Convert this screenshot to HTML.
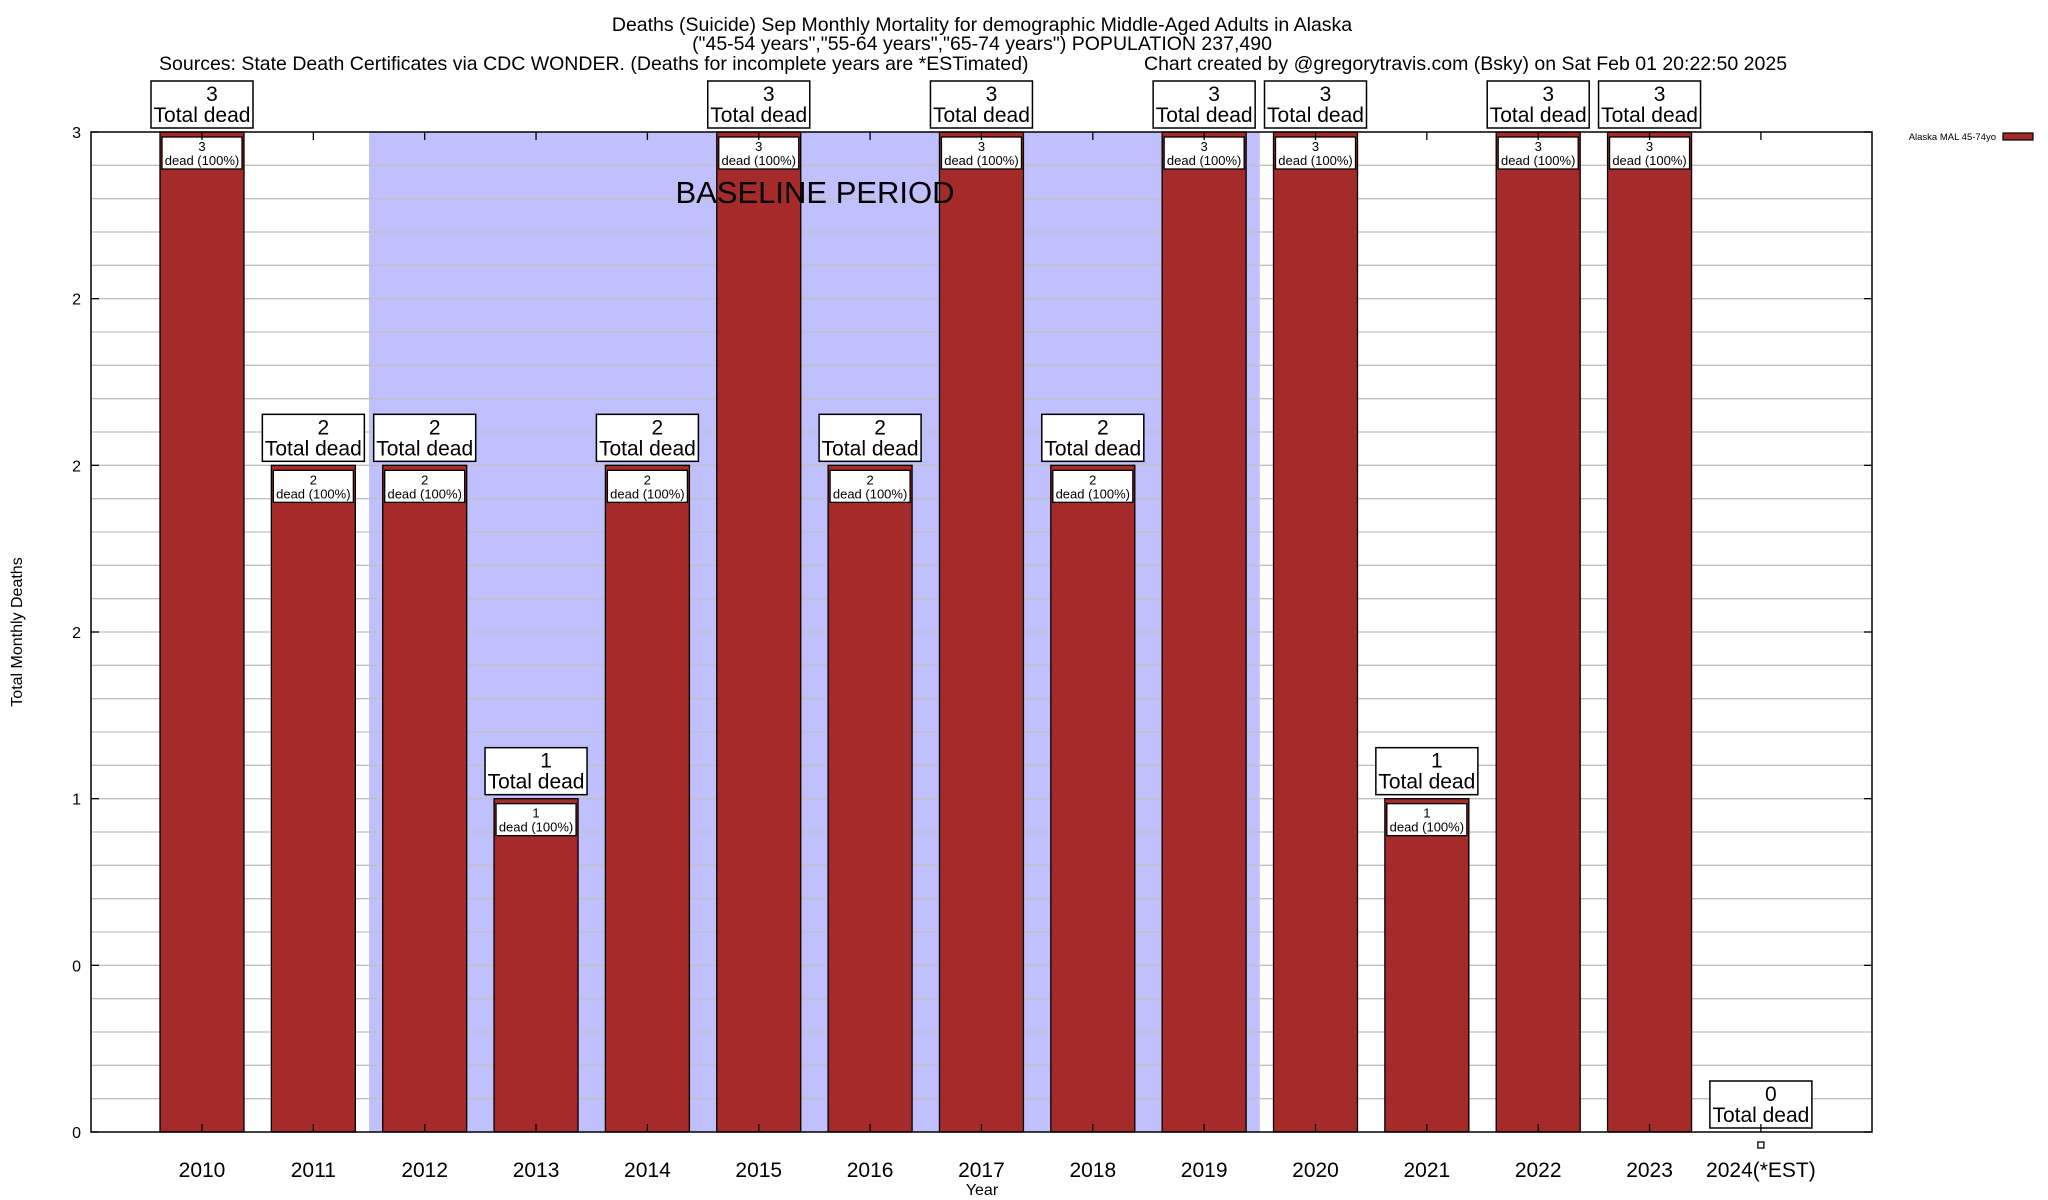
<!DOCTYPE html>
<html><head><meta charset="utf-8"><style>
html,body{margin:0;padding:0;background:#fff;}
svg{display:block;font-family:"Liberation Sans",Arial,sans-serif;}
</style></head><body>
<svg id="chart" width="2048" height="1200" viewBox="0 0 2048 1200">
<text x="982" y="31" font-size="19.5" text-anchor="middle">Deaths (Suicide) Sep Monthly Mortality for demographic Middle-Aged Adults in Alaska</text>
<text x="982" y="50" font-size="19.5" text-anchor="middle">("45-54 years","55-64 years","65-74 years") POPULATION 237,490</text>
<text x="159" y="70" font-size="19.5">Sources: State Death Certificates via CDC WONDER. (Deaths for incomplete years are *ESTimated)</text>
<text x="1144" y="70" font-size="19.5">Chart created by @gregorytravis.com (Bsky) on Sat Feb 01 20:22:50 2025</text>
<g id="plot"></g>
</svg>
<script>
const categories = ["2010","2011","2012","2013","2014","2015","2016","2017","2018","2019","2020","2021","2022","2023","2024(*EST)"];
const deaths = [3,2,2,1,2,3,2,3,2,3,3,1,3,3,0];
const yTicks = [0,0.5,1,1.5,2,2.5,3];
const yTickLabels = ["0","0","1","2","2","2","3"];
const baselineStart = "2012";
const baselineEnd = "2019";

const NS="http://www.w3.org/2000/svg";
const L=91,R=1872,T=132,B=1132;
const xC=i=>202+i*111.35;
const y=v=>B-(v/3)*(B-T);
const g=document.getElementById('plot');
function mk(tag,attrs,parent){const e=document.createElementNS(NS,tag);for(const k in attrs)e.setAttribute(k,attrs[k]);(parent||g).appendChild(e);return e;}

const bi0=categories.indexOf(baselineStart),bi1=categories.indexOf(baselineEnd);
const base=mk('rect',{x:xC(bi0)-55.7,y:T,width:xC(bi1)-xC(bi0)+111.4,height:B-T,fill:'#c0c0ff'});


for(let k=1;k<30;k++){const v=k/10;const l=mk('line',{x1:L,x2:R,y1:y(v),y2:y(v),stroke:'#c0c0c0','stroke-width':1.3});

}

deaths.forEach((d,i)=>{
  const cx=xC(i),w=84;
  if(d>0){
    const r=mk('rect',{x:cx-w/2,y:y(d),width:w,height:B-y(d),fill:'#a52a2a',stroke:'#000','stroke-width':1.3});
    
    
    const ib=mk('rect',{x:cx-40,y:y(d)+5,width:80,height:32,fill:'#fff',stroke:'#000','stroke-width':1.3});
    
    
    const t1=mk('text',{x:cx,y:y(d)+19,'font-size':13,'text-anchor':'middle'});t1.textContent=d;
    
    
    const t2=mk('text',{x:cx,y:y(d)+33,'font-size':13,'text-anchor':'middle'});t2.textContent='dead (100%)';
    
    
  } else {
    const m=mk('rect',{x:cx-3,y:1142,width:6,height:6,fill:'#fff',stroke:'#000','stroke-width':1.3});
    
    
  }
  const top=y(d);
  const ob=mk('rect',{x:cx-51,y:top-51,width:102,height:47,fill:'#fff',stroke:'#000','stroke-width':1.5});
  
  
  const a=mk('text',{x:cx+10,y:top-31,'font-size':21,'text-anchor':'middle'});a.textContent=d;
  
  
  const b=mk('text',{x:cx,y:top-10,'font-size':21,'text-anchor':'middle'});b.textContent='Total dead';
  
  
  const xl=mk('text',{x:cx,y:1177,'font-size':21,'text-anchor':'middle'});xl.textContent=categories[i];
  
  
  mk('line',{x1:cx,x2:cx,y1:B,y2:B-8,stroke:'#000','stroke-width':1.3});
  mk('line',{x1:cx,x2:cx,y1:T,y2:T+8,stroke:'#000','stroke-width':1.3});
});

const bt=mk('text',{x:815,y:203,'font-size':31,'text-anchor':'middle'});bt.textContent='BASELINE PERIOD';



yTicks.forEach((v,k)=>{
  const t=mk('text',{x:81,y:y(v)+6,'font-size':16,'text-anchor':'end'});t.textContent=yTickLabels[k];
  
  
  mk('line',{x1:L,x2:L+8,y1:y(v),y2:y(v),stroke:'#000','stroke-width':1.3});
  mk('line',{x1:R,x2:R-8,y1:y(v),y2:y(v),stroke:'#000','stroke-width':1.3});
});
const fr=mk('rect',{x:L,y:T,width:R-L,height:B-T,fill:'none',stroke:'#000','stroke-width':1.5});


const xt=mk('text',{x:982,y:1195,'font-size':16,'text-anchor':'middle'});xt.textContent='Year';


const yt=mk('text',{x:0,y:0,'font-size':16,'text-anchor':'middle',transform:'translate(22,632) rotate(-90)'});yt.textContent='Total Monthly Deaths';


const lt=mk('text',{x:1996,y:140,'font-size':9.5,'text-anchor':'end'});lt.textContent='Alaska MAL 45-74yo';


const ls=mk('rect',{x:2003,y:133,width:30,height:7,fill:'#a52a2a',stroke:'#000','stroke-width':1.2});


</script>
</body></html>
